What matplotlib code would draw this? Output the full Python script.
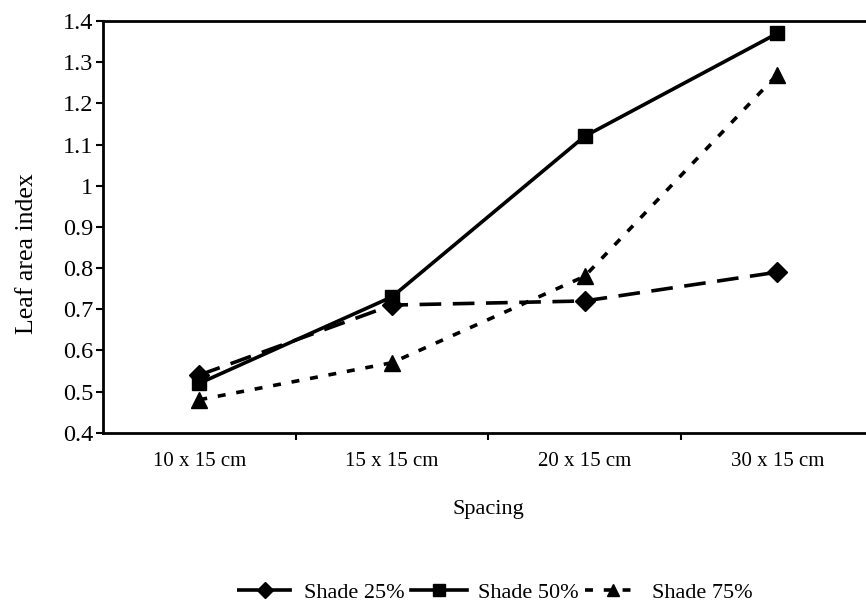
import matplotlib
matplotlib.use("Agg")
import matplotlib.pyplot as plt
import numpy as np

categories = ["10 x 15 cm", "15 x 15 cm", "20 x 15 cm", "30 x 15 cm"]
shade25 = [0.54, 0.71, 0.72, 0.79]
shade50 = [0.52, 0.73, 1.12, 1.37]
shade75 = [0.48, 0.57, 0.78, 1.27]
yticks = [0.4, 0.5, 0.6, 0.7, 0.8, 0.9, 1.0, 1.1, 1.2, 1.3, 1.4]
yticklabels = ["0.4", "0.5", "0.6", "0.7", "0.8", "0.9", "1", "1.1", "1.2", "1.3", "1.4"]

plt.rcParams['font.family'] = ['Liberation Serif', 'DejaVu Serif']

fig = plt.figure(figsize=(8.66, 6.07), dpi=100)
W, H = 866, 607
left, right, top, bottom = 103, 873.75, 21, 432.7
ax = fig.add_axes([left / W, 1 - bottom / H, (right - left) / W, (bottom - top) / H])

x = np.arange(len(categories))
ax.plot(x, shade25, color='black', lw=2.6, linestyle=(0, (6, 3.2)), marker='D', markersize=10,
        label='Shade 25%')
ax.plot(x, shade50, color='black', lw=2.6, linestyle='-', marker='s', markersize=10.5,
        label='Shade 50%')
ax.plot(x, shade75, color='black', lw=2.6, linestyle=(0, (2.2, 3.0)), marker='^', markersize=11.5,
        label='Shade 75%')

ax.set_xlim(-0.5, 3.5)
ax.set_ylim(0.4, 1.4)
ax.set_yticks(yticks)
ax.set_yticklabels(yticklabels, fontsize=17.5)
ax.set_xticks(x)
ax.set_xticklabels(categories, fontsize=15)
ax.set_xticks([0.5, 1.5, 2.5], minor=True)
ax.tick_params(axis='x', which='major', length=0, pad=14)
ax.tick_params(axis='x', which='minor', length=5, width=1.5, direction='out')
ax.tick_params(axis='y', which='major', length=5, width=1.5, direction='out', pad=2)

for s in ['left', 'bottom', 'top']:
    ax.spines[s].set_linewidth(2)
ax.spines['right'].set_visible(False)

ax.set_ylabel('Leaf area index', fontsize=18.5)
ax.yaxis.set_label_coords(-0.084, 0.436)
ax.set_xlabel('Spacing', fontsize=16)
ax.xaxis.set_label_coords(0.5, -0.163)

fig.legend(loc='center', bbox_to_anchor=(495 / W, 1 - 593 / H), ncol=3, frameon=False,
           fontsize=16, handlelength=2.5, columnspacing=0.3, handletextpad=0.5,
           markerscale=0.8)

fig.savefig('out.png', dpi=100)
